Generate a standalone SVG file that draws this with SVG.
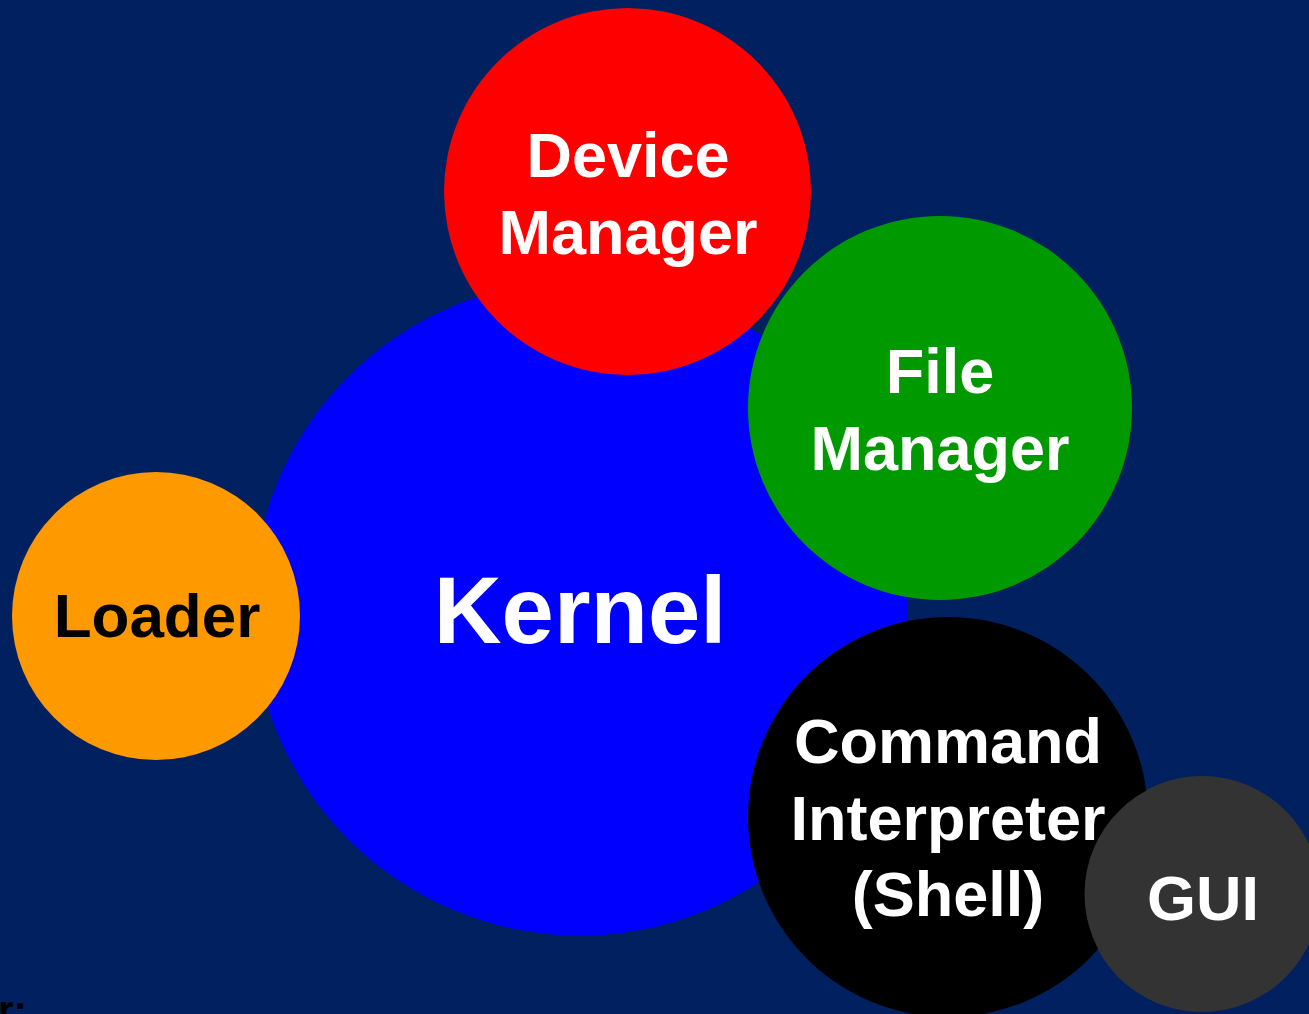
<svg xmlns="http://www.w3.org/2000/svg" width="1309" height="1014" viewBox="0 0 1309 1014">
  <style>
    text { font-family: "Liberation Sans", Arial, sans-serif; font-weight: bold; text-anchor: middle; }
    .lbl { font-size: 63px; fill: #ffffff; }
    .dark { fill: #000000; }
    .big { font-size: 94px; fill: #ffffff; }
  </style>
  <defs>
    <!-- the shell disc is cut where the GUI disc sits on top of it -->
    <mask id="shell-cut" maskUnits="userSpaceOnUse" x="0" y="0" width="1309" height="1014">
      <rect x="0" y="0" width="1309" height="1014" fill="#fff"/>
      <circle cx="1202" cy="894" r="117.5" fill="#000"/>
    </mask>
  </defs>

  <rect id="background" x="0" y="0" width="1309" height="1014" fill="#002060"/>

  <g id="kernel">
    <circle cx="580" cy="608" r="327.5" fill="#0000ff"/>
    <text class="big" x="580" y="643">Kernel</text>
  </g>

  <g id="loader">
    <circle cx="156" cy="616" r="144" fill="#ff9900"/>
    <text class="lbl dark" x="157" y="637" style="font-size:62px">Loader</text>
  </g>

  <g id="device-manager">
    <circle cx="627.5" cy="191.5" r="183.5" fill="#ff0000"/>
    <text class="lbl" x="628" y="177">Device</text>
    <text class="lbl" x="628" y="254">Manager</text>
  </g>

  <g id="file-manager">
    <circle cx="940" cy="408" r="192" fill="#009900"/>
    <text class="lbl" x="940" y="393">File</text>
    <text class="lbl" x="940" y="470">Manager</text>
  </g>

  <g id="gui">
    <circle cx="1202" cy="894" r="118" fill="#333333"/>
    <text class="lbl" x="1203" y="920">GUI</text>
  </g>

  <g id="command-interpreter">
    <circle cx="948" cy="817" r="200" fill="#000000" mask="url(#shell-cut)"/>
    <text class="lbl" x="948" y="763">Command</text>
    <text class="lbl" x="948" y="840">Interpreter</text>
    <text class="lbl" x="948" y="916">(Shell)</text>
  </g>

  <!-- no connectors in this figure -->
  <g id="connectors"/>

  <text x="-2" y="1024" style="font-size:40px; fill:#000; text-anchor:start">r:</text>
</svg>
